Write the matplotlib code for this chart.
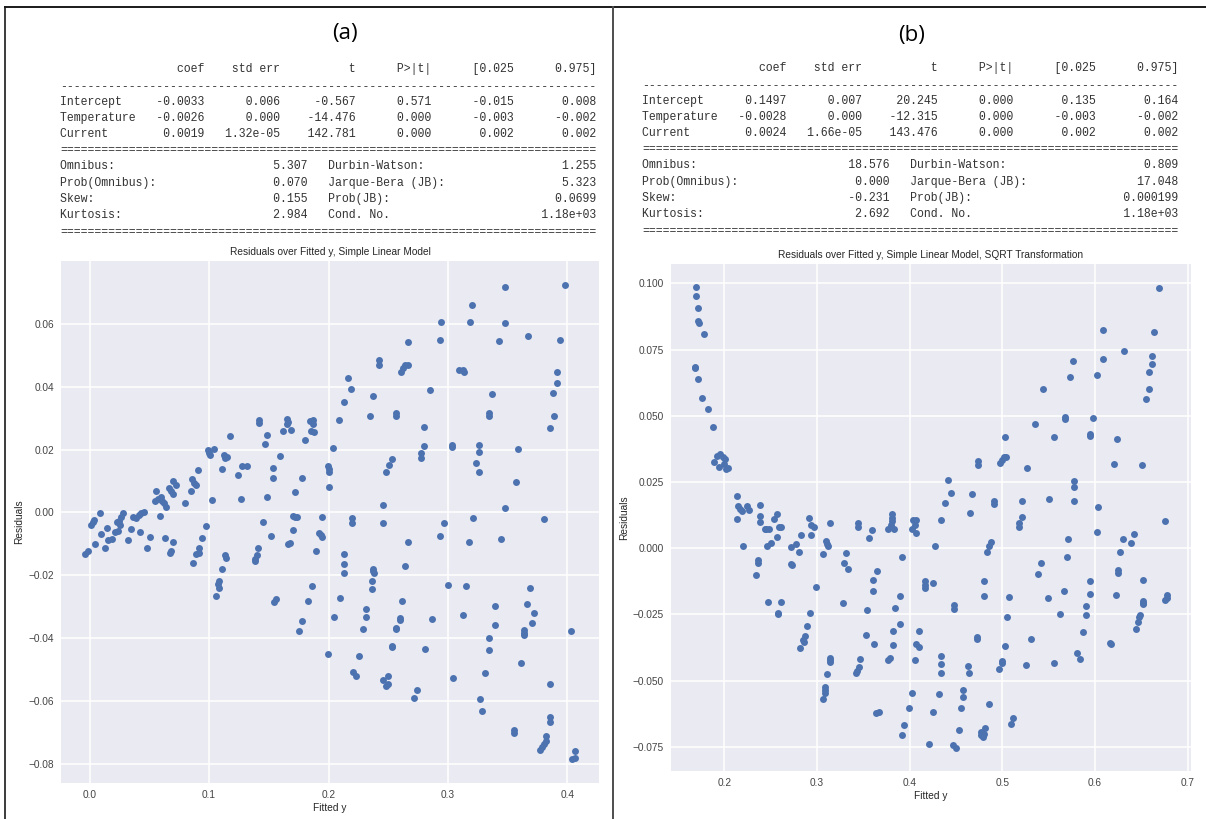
import matplotlib.pyplot as plt
from matplotlib.lines import Line2D

# Two OLS result summaries with their residual plots, side by side.
W, H = 1206, 819

# ---------------- model summaries ----------------
coef_header = ["coef", "std err", "t", "P>|t|", "[0.025", "0.975]"]
coef_names = ["Intercept", "Temperature", "Current"]
diag_left = ["Omnibus:", "Prob(Omnibus):", "Skew:", "Kurtosis:"]
diag_right = ["Durbin-Watson:", "Jarque-Bera (JB):", "Prob(JB):", "Cond. No."]

a_intercept = ["-0.0033", "0.006", "-0.567", "0.571", "-0.015", "0.008"]
a_temperature = ["-0.0026", "0.000", "-14.476", "0.000", "-0.003", "-0.002"]
a_current = ["0.0019", "1.32e-05", "142.781", "0.000", "0.002", "0.002"]
a_diag_left = ["5.307", "0.070", "0.155", "2.984"]
a_diag_right = ["1.255", "5.323", "0.0699", "1.18e+03"]

b_intercept = ["0.1497", "0.007", "20.245", "0.000", "0.135", "0.164"]
b_temperature = ["-0.0028", "0.000", "-12.315", "0.000", "-0.003", "-0.002"]
b_current = ["0.0024", "1.66e-05", "143.476", "0.000", "0.002", "0.002"]
b_diag_left = ["18.576", "0.000", "-0.231", "2.692"]
b_diag_right = ["0.809", "17.048", "0.000199", "1.18e+03"]

# ---------------- residuals, model (a) ----------------
fitted_a = [
    -0.0034, -0.0014, 0.0014, 0.0028, 0.0037, 0.0085, 0.0048, 0.0093, 0.0127, 0.0150,
    0.0156, 0.0184, 0.0210, 0.0235, 0.0227, 0.0246, 0.0263, 0.0283, 0.0255, 0.0320,
    0.0348, 0.0360, 0.0388, 0.0410, 0.0433, 0.0453, 0.0419, 0.0484, 0.0510, 0.0558,
    0.0552, 0.0569, 0.0595, 0.0603, 0.0623, 0.0637, 0.0592, 0.0632, 0.0674, 0.0680,
    0.0700, 0.0666, 0.0680, 0.0700, 0.0722, 0.0700, 0.0802, 0.0853, 0.0858, 0.0878,
    0.0892, 0.0909, 0.0870, 0.0892, 0.0915, 0.0943, 0.0972, 0.0919, 0.0992, 0.1000,
    0.1011, 0.1040, 0.1023, 0.1105, 0.1133, 0.1139, 0.1076, 0.1082, 0.1057, 0.1083,
    0.1105, 0.1125, 0.1133, 0.1153, 0.1176, 0.1241, 0.1269, 0.1275, 0.1317, 0.1388,
    0.1402, 0.1408, 0.1385, 0.1419, 0.1422, 0.1453, 0.1465, 0.1487, 0.1487, 0.1516,
    0.1535, 0.1535, 0.1592, 0.1540, 0.1563, 0.1623, 0.1652, 0.1657, 0.1652, 0.1686,
    0.1657, 0.1680, 0.1700, 0.1722, 0.1737, 0.1700, 0.1722, 0.1782, 0.1805, 0.1841,
    0.1870, 0.1856, 0.1878, 0.1870, 0.1861, 0.1898, 0.1918, 0.1935, 0.1946, 0.1946,
    0.1997, 0.2003, 0.2003, 0.2006, 0.2034, 0.2090, 0.2096,
    0.2126, 0.2159, 0.2185, 0.2195, 0.2195, 0.2348, 0.2371, 0.2424, 0.2424, 0.2456,
    0.2456, 0.2482, 0.2505, 0.2531, 0.2564, 0.2564, 0.2610, 0.2626, 0.2643, 0.2669,
    0.2666, 0.2666, 0.2774, 0.2774, 0.2797, 0.2797, 0.2852, 0.2934, 0.2940, 0.2934,
    0.2963, 0.3035, 0.3035, 0.3094, 0.3127, 0.3133, 0.3176, 0.3186, 0.3205, 0.3209,
    0.3238, 0.3258, 0.3258, 0.3258, 0.3346, 0.3346, 0.3369, 0.3424, 0.3444, 0.3473,
    0.3473, 0.3473, 0.3565, 0.3585, 0.3670, 0.3804, 0.3853, 0.3882, 0.3886, 0.3908,
    0.3908, 0.3935, 0.3980,
    0.1750, 0.1782, 0.1832, 0.1992, 0.2047, 0.2126, 0.2126, 0.2126, 0.2208, 0.2234,
    0.2257, 0.2289, 0.2316, 0.2316, 0.2365, 0.2365, 0.2374, 0.2374, 0.2381, 0.2456,
    0.2495, 0.2479, 0.2495, 0.2535, 0.2535, 0.2567, 0.2567, 0.2597, 0.2597, 0.2617,
    0.2643, 0.2718, 0.2741, 0.2806, 0.2862, 0.3002, 0.3045, 0.3127, 0.3153, 0.3264,
    0.3287, 0.3313, 0.3346, 0.3346, 0.3395, 0.3395, 0.3552, 0.3552, 0.3611, 0.3634,
    0.3634, 0.3634, 0.3660, 0.3683, 0.3699, 0.3722, 0.3771, 0.3787, 0.3804, 0.3820,
    0.3820, 0.3853, 0.3853, 0.3853, 0.4033, 0.4039, 0.4059, 0.4059,
]
resid_a = [
    -0.0133, -0.0122, -0.0039, -0.0032, -0.0024, -0.0001, -0.0099, -0.0069, -0.0114, -0.0050,
    -0.0088, -0.0085, -0.0061, -0.0059, -0.0032, -0.0027, -0.0016, -0.0002, -0.0039, -0.0088,
    -0.0054, -0.0014, -0.0018, -0.0007, -0.0003, 0.0000, -0.0063, -0.0114, -0.0077, 0.0067,
    0.0037, 0.0043, 0.0050, 0.0037, 0.0029, 0.0018, -0.0011, -0.0080, -0.0129, -0.0122,
    -0.0094, 0.0078, 0.0069, 0.0101, 0.0088, 0.0059, 0.0030, 0.0069, 0.0106, 0.0093,
    0.0088, 0.0136, -0.0161, -0.0133, -0.0112, -0.0082, -0.0043, -0.0129, 0.0197, 0.0188,
    0.0181, 0.0202, 0.0039, -0.0181, -0.0135, -0.0144, -0.0229, -0.0239, -0.0266, -0.0219,
    0.0138, 0.0184, 0.0173, 0.0176, 0.0243, 0.0118, 0.0044, 0.0149, 0.0149, -0.0154,
    -0.0135, -0.0112, -0.0147, 0.0295, 0.0284, -0.0029, 0.0216, 0.0247, 0.0048, -0.0074,
    0.0141, 0.0109, 0.0179, -0.0286, -0.0275, 0.0259, 0.0298, 0.0287, 0.0280, 0.0261,
    -0.0101, -0.0097, -0.0011, -0.0014, -0.0014, -0.0056, 0.0066, 0.0109, 0.0231, 0.0290,
    0.0293, 0.0259, 0.0255, 0.0282, -0.0234, -0.0122, -0.0064, -0.0071, -0.0078, -0.0016,
    0.0149, 0.0138, 0.0128, 0.0082, 0.0204, 0.0293, -0.0271,
    0.0352, 0.0428, 0.0392, -0.0017, -0.0035, 0.0306, 0.0370, 0.0486, 0.0469, 0.0025,
    -0.0033, 0.0130, 0.0151, 0.0169, 0.0315, 0.0305, 0.0448, 0.0459, 0.0469, 0.0469,
    0.0541, -0.0093, 0.0188, 0.0172, 0.0273, 0.0211, 0.0389, 0.0549, 0.0604, -0.0075,
    -0.0033, 0.0215, 0.0209, 0.0454, 0.0454, 0.0448, -0.0093, 0.0604, 0.0661, -0.0017,
    0.0156, 0.0130, 0.0193, 0.0215, 0.0315, 0.0308, 0.0376, 0.0544, -0.0084, 0.0718,
    0.0602, 0.0013, 0.0096, 0.0202, 0.0562, -0.0020, 0.0269, 0.0381, 0.0306, 0.0446,
    0.0410, 0.0547, 0.0724,
    -0.0376, -0.0345, -0.0283, -0.0449, -0.0334, -0.0132, -0.0163, -0.0193, -0.0508, -0.0520,
    -0.0456, -0.0370, -0.0307, -0.0331, -0.0217, -0.0242, -0.0180, -0.0187, -0.0193, -0.0532,
    -0.0520, -0.0551, -0.0546, -0.0424, -0.0428, -0.0368, -0.0371, -0.0336, -0.0341, -0.0283,
    -0.0169, -0.0590, -0.0566, -0.0434, -0.0338, -0.0230, -0.0525, -0.0327, -0.0235, -0.0594,
    -0.0630, -0.0511, -0.0400, -0.0437, -0.0299, -0.0359, -0.0691, -0.0700, -0.0479, -0.0373,
    -0.0384, -0.0389, -0.0290, -0.0241, -0.0352, -0.0320, -0.0757, -0.0746, -0.0736, -0.0712,
    -0.0728, -0.0545, -0.0651, -0.0665, -0.0378, -0.0785, -0.0781, -0.0760,
]

# ---------------- residuals, model (b), SQRT transformation ----------------
fitted_b = [
    0.1690, 0.1690, 0.1719, 0.1720, 0.1725, 0.1781, 0.1680, 0.1682, 0.1711, 0.1764,
    0.1822, 0.1876, 0.1893, 0.1926, 0.1959, 0.1946, 0.1988, 0.2008, 0.2021, 0.2037,
    0.1996, 0.2140, 0.2136, 0.2153, 0.2174, 0.2186, 0.2207, 0.2248, 0.2269, 0.2384,
    0.2384, 0.2384, 0.2434, 0.2455, 0.2483, 0.2463, 0.2504, 0.2537, 0.2566, 0.2566,
    0.2587, 0.2607, 0.2723, 0.2773, 0.2826, 0.2917, 0.2938, 0.2971, 0.2938, 0.3095,
    0.3103, 0.3124, 0.3145, 0.3446, 0.3446, 0.3558, 0.3591, 0.3764, 0.3797, 0.3806,
    0.3806, 0.3826, 0.3806, 0.4033, 0.4066, 0.4054, 0.4066, 0.4025, 0.4273, 0.4335,
    0.4384, 0.4413, 0.4446, 0.4653, 0.4674, 0.4736, 0.4736, 0.4851, 0.4880, 0.4913,
    0.4913, 0.4975, 0.4996, 0.5017, 0.5037, 0.5025, 0.5182, 0.5182, 0.5211, 0.5211,
    0.5269, 0.5351, 0.5442, 0.5500, 0.5562, 0.5674, 0.5674, 0.5707, 0.5731, 0.5760,
    0.5773, 0.5773, 0.5773, 0.5946, 0.5946, 0.5975, 0.6025, 0.6033, 0.6017, 0.6083,
    0.6083, 0.6202, 0.6236, 0.6306, 0.6314, 0.6388, 0.6417, 0.6504, 0.6554, 0.6583,
    0.6583, 0.6616, 0.6616, 0.6636, 0.6694, 0.6756,
    0.2347, 0.2368, 0.2368, 0.2467, 0.2579, 0.2579, 0.2607, 0.2723, 0.2731, 0.2810,
    0.2822, 0.2847, 0.2876, 0.2864, 0.2897, 0.2930, 0.2988, 0.3070, 0.3062, 0.3083,
    0.3083, 0.3083, 0.3112, 0.3145, 0.3145, 0.3145, 0.3277, 0.3289, 0.3318, 0.3331,
    0.3426, 0.3434, 0.3455, 0.3467, 0.3525, 0.3541, 0.3603, 0.3603, 0.3612, 0.3649,
    0.3640, 0.3670, 0.3764, 0.3793, 0.3822, 0.3822, 0.3847, 0.3893, 0.3901, 0.3921,
    0.3913, 0.3934, 0.3996, 0.4021, 0.4054, 0.4074, 0.4103, 0.4103, 0.4165, 0.4165,
    0.4165, 0.4207, 0.4248, 0.4252, 0.4314, 0.4343, 0.4343, 0.4343, 0.4483, 0.4483,
    0.4467, 0.4496, 0.4530, 0.4558, 0.4579, 0.4579, 0.4632, 0.4640, 0.4727, 0.4727,
    0.4773, 0.4793, 0.4802, 0.4818, 0.4773, 0.4806, 0.4806, 0.4839, 0.4851, 0.4963,
    0.5000, 0.5000, 0.5025, 0.5054, 0.5074, 0.5095, 0.5116, 0.5260, 0.5306, 0.5388,
    0.5421, 0.5488, 0.5554, 0.5624, 0.5661, 0.5694, 0.5810, 0.5839, 0.5872, 0.5901,
    0.5901, 0.5950, 0.5950, 0.6161, 0.6170, 0.6223, 0.6244, 0.6244, 0.6273, 0.6438,
    0.6459, 0.6480, 0.6484, 0.6517, 0.6521, 0.6521, 0.6521, 0.6756, 0.6773, 0.6781,
]
resid_b = [
    0.0986, 0.0954, 0.0907, 0.0859, 0.0852, 0.0809, 0.0685, 0.0679, 0.0640, 0.0567,
    0.0524, 0.0458, 0.0326, 0.0349, 0.0355, 0.0305, 0.0343, 0.0336, 0.0299, 0.0303,
    0.0317, 0.0196, 0.0110, 0.0161, 0.0148, 0.0142, 0.0008, 0.0161, 0.0144, 0.0164,
    0.0120, 0.0098, 0.0073, 0.0073, 0.0073, 0.0008, 0.0019, 0.0110, 0.0129, 0.0044,
    0.0079, 0.0079, 0.0004, 0.0016, 0.0051, 0.0113, 0.0089, 0.0079, 0.0051, 0.0029,
    0.0016, 0.0008, 0.0094, 0.0095, 0.0079, 0.0039, 0.0070, 0.0073, 0.0089, 0.0129,
    0.0114, 0.0073, 0.0104, 0.0107, 0.0107, 0.0088, 0.0056, 0.0073, 0.0008, 0.0107,
    0.0169, 0.0257, 0.0208, 0.0133, 0.0205, 0.0330, 0.0314, 0.0008, 0.0023, 0.0177,
    0.0167, 0.0320, 0.0333, 0.0345, 0.0345, 0.0420, 0.0094, 0.0079, 0.0179, 0.0119,
    0.0302, 0.0468, 0.0600, 0.0186, 0.0420, 0.0496, 0.0488, 0.0035, 0.0647, 0.0706,
    0.0255, 0.0233, 0.0177, 0.0433, 0.0424, 0.0493, 0.0654, 0.0157, 0.0063, 0.0823,
    0.0714, 0.0317, 0.0412, 0.0033, 0.0743, 0.0021, 0.0053, 0.0314, 0.0563, 0.0602,
    0.0665, 0.0694, 0.0725, 0.0817, 0.0982, 0.0102,
    -0.0100, -0.0046, -0.0054, -0.0204, -0.0250, -0.0244, -0.0202, -0.0060, -0.0063, -0.0013,
    -0.0376, -0.0345, -0.0332, -0.0355, -0.0294, -0.0244, -0.0145, -0.0023, -0.0570, -0.0524,
    -0.0535, -0.0545, -0.0476, -0.0414, -0.0422, -0.0429, -0.0208, -0.0054, -0.0019, -0.0079,
    -0.0472, -0.0464, -0.0449, -0.0417, -0.0328, -0.0233, -0.0120, -0.0163, -0.0360, -0.0085,
    -0.0623, -0.0618, -0.0422, -0.0416, -0.0313, -0.0367, -0.0226, -0.0286, -0.0180, -0.0033,
    -0.0704, -0.0669, -0.0603, -0.0546, -0.0422, -0.0360, -0.0372, -0.0311, -0.0125, -0.0138,
    -0.0150, -0.0739, -0.0132, -0.0620, -0.0550, -0.0405, -0.0437, -0.0472, -0.0213, -0.0229,
    -0.0744, -0.0754, -0.0687, -0.0603, -0.0535, -0.0560, -0.0445, -0.0470, -0.0335, -0.0342,
    -0.0695, -0.0714, -0.0702, -0.0677, -0.0705, -0.0124, -0.0180, -0.0015, -0.0588, -0.0457,
    -0.0426, -0.0432, -0.0370, -0.0261, -0.0184, -0.0665, -0.0642, -0.0440, -0.0342, -0.0096,
    -0.0054, -0.0188, -0.0434, -0.0247, -0.0163, -0.0033, -0.0397, -0.0417, -0.0317, -0.0219,
    -0.0251, -0.0123, -0.0173, -0.0357, -0.0360, -0.0177, -0.0084, -0.0094, -0.0013, -0.0305,
    -0.0279, -0.0261, -0.0251, -0.0119, -0.0198, -0.0207, -0.0211, -0.0197, -0.0188, -0.0175,
]

MONO = "Liberation Mono"
SANS = "Liberation Sans"
TEXT_GRAY = "#333333"


def fx(x):
    return x / W


def fy(y):
    return 1 - y / H


def summary_lines(rows, dl_vals, dr_vals):
    """Build the statsmodels-style text block (78 chars wide)."""
    lines = [f"{'':<11}{coef_header[0]:>10}{coef_header[1]:>11}{coef_header[2]:>11}"
             f"{coef_header[3]:>11}{coef_header[4]:>12}{coef_header[5]:>12}",
             "-" * 78]
    for name, r in zip(coef_names, rows):
        lines.append(f"{name:<11}{r[0]:>10}{r[1]:>11}{r[2]:>11}{r[3]:>11}{r[4]:>12}{r[5]:>12}")
    lines.append("=" * 78)
    for ln, lv, rn, rv in zip(diag_left, dl_vals, diag_right, dr_vals):
        lines.append(f"{ln:<20}{lv:>16}   {rn:<20}{rv:>19}")
    lines.append("=" * 78)
    return lines


def draw_summary(fig, x0, ys, lines):
    for y, line in zip(ys, lines):
        fig.text(fx(x0), fy(y), line, family=MONO, fontsize=8.3, color=TEXT_GRAY,
                 ha="left", va="center")


def residual_plot(fig, rect, fitted, resid, title, ypad_lab):
    left, top, right, bottom = rect
    ax = fig.add_axes([fx(left), fy(bottom), fx(right - left), (bottom - top) / H])
    ax.set_facecolor("#EAEAF2")
    for s in ax.spines.values():
        s.set_visible(False)
    ax.grid(True, color="white", linewidth=1.1)
    ax.set_axisbelow(True)
    ax.scatter(fitted, resid, s=25, color="#4C72B0", linewidths=0, zorder=3)
    ax.tick_params(length=0, labelsize=7.3, labelcolor="#444444", pad=5)
    for lab in ax.get_xticklabels() + ax.get_yticklabels():
        lab.set_family(SANS)
    ax.set_title(title, fontsize=7.3, family=SANS, color="#262626", pad=4)
    ax.set_xlabel("Fitted y", fontsize=7.3, family=SANS, color="#262626", labelpad=2)
    ax.set_ylabel("Residuals", fontsize=7.3, family=SANS, color="#262626", labelpad=ypad_lab)
    return ax


fig = plt.figure(figsize=(W / 100, H / 100), dpi=100)
fig.patch.set_facecolor("white")

# frame lines of the two-cell layout
fig.add_artist(Line2D([fx(5), fx(W)], [fy(7), fy(7)], color="#1a1a1a", lw=1.4))
fig.add_artist(Line2D([fx(5), fx(5)], [fy(7), fy(H)], color="#1a1a1a", lw=1.2))
fig.add_artist(Line2D([fx(613), fx(613)], [fy(7), fy(H)], color="#4d4d4d", lw=1.4))

# panel letters
fig.text(fx(345), fy(33), "(a)", fontsize=16, family="Open Sans", ha="center", va="center")
fig.text(fx(912), fy(36), "(b)", fontsize=16, family="Open Sans", ha="center", va="center")

row_y = [69, 87, 102, 118, 134, 150, 166, 183, 199, 215, 232]
draw_summary(fig, 60, row_y,
             summary_lines([a_intercept, a_temperature, a_current], a_diag_left, a_diag_right))
draw_summary(fig, 642, [y - 1 for y in row_y],
             summary_lines([b_intercept, b_temperature, b_current], b_diag_left, b_diag_right))

residual_plot(fig, (61, 261, 599, 783), fitted_a, resid_a,
              "Residuals over Fitted y, Simple Linear Model", 3)
residual_plot(fig, (671, 264, 1191, 771), fitted_b, resid_b,
              "Residuals over Fitted y, Simple Linear Model, SQRT Transformation", 3)

fig.savefig("out.png", dpi=100)
